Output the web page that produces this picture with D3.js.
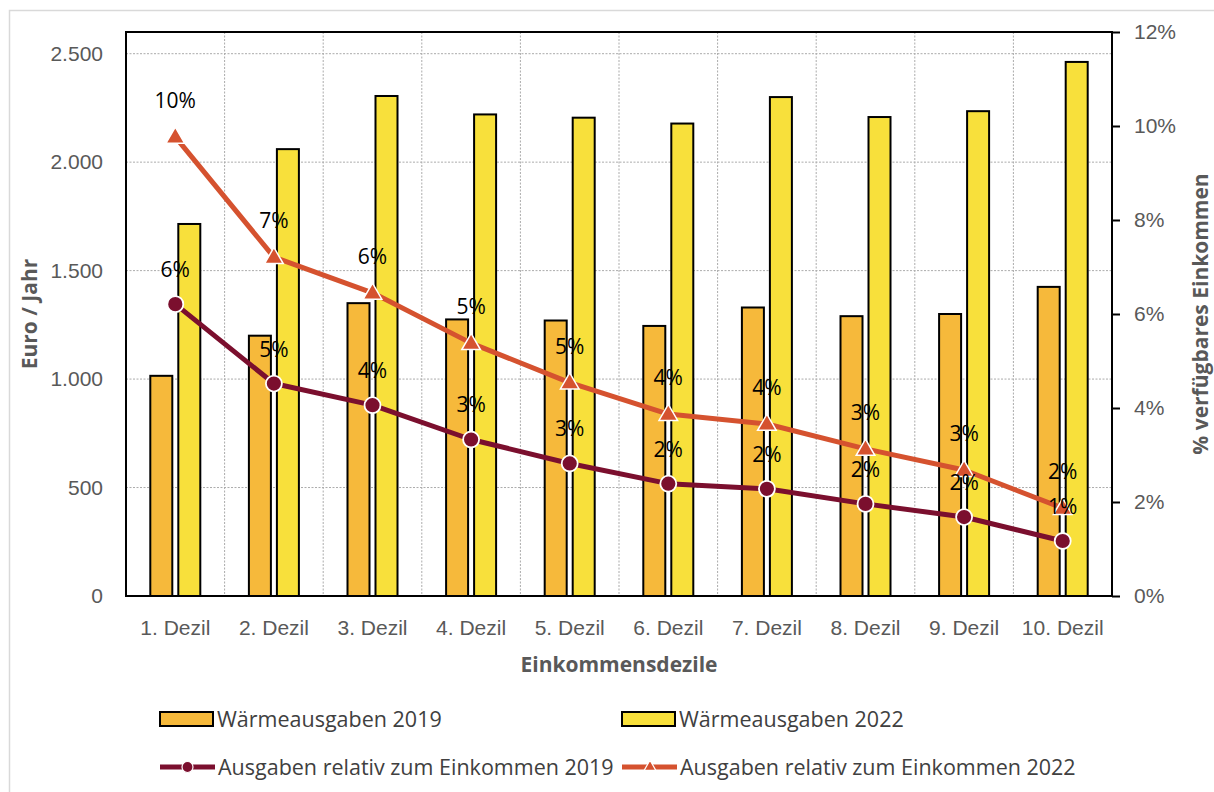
<!DOCTYPE html>
<html lang="de">
<head>
<meta charset="utf-8">
<script src="https://cdn.jsdelivr.net/npm/d3@7"></script>
<style>
  html, body { margin: 0; padding: 0; background: #fff; }
  svg { display: block; font-family: "Open Sans", "Noto Sans", sans-serif; }
</style>
</head>
<body>
<svg id="chart" width="1214" height="792"></svg>
<script>
// Einkommensdezile
const categories = ["1. Dezil", "2. Dezil", "3. Dezil", "4. Dezil", "5. Dezil",
                    "6. Dezil", "7. Dezil", "8. Dezil", "9. Dezil", "10. Dezil"];
// Wärmeausgaben in Euro pro Jahr
const heat2019 = [1015, 1200, 1350, 1275, 1270, 1245, 1330, 1290, 1300, 1425];
const heat2022 = [1715, 2060, 2305, 2220, 2205, 2178, 2300, 2208, 2235, 2462];
// Ausgaben relativ zum verfügbaren Einkommen (Anteil)
const share2019 = [0.0621, 0.0452, 0.0406, 0.0333, 0.0282, 0.0239, 0.0228, 0.0196, 0.0168, 0.0117];
const share2022 = [0.0977, 0.0721, 0.0645, 0.0538, 0.0454, 0.0387, 0.0366, 0.0313, 0.0268, 0.0187];
// Achsenbeschriftungen
const leftTicks = [0, 500, 1000, 1500, 2000, 2500];
const rightTicks = [0, 0.02, 0.04, 0.06, 0.08, 0.10, 0.12];
const seriesNames = ["Wärmeausgaben 2019", "Wärmeausgaben 2022",
                     "Ausgaben relativ zum Einkommen 2019", "Ausgaben relativ zum Einkommen 2022"];

const C = {
  bar19: "#F6B93B", bar22: "#F8E03B",
  line19: "#7B0F2E", line22: "#D5522F",
  tick: "#595959", legend: "#404040", grid: "#ababab"
};

const svg = d3.select("#chart");
const m = { left: 126, top: 32, right: 1112, bottom: 596 };
const W = m.right - m.left, H = m.bottom - m.top;

// outer frame
svg.append("rect").attr("x", 9.5).attr("y", 10.5).attr("width", 1230).attr("height", 800)
  .attr("fill", "none").attr("stroke", "#d9d9d9").attr("stroke-width", 1.5);

const g = svg.append("g").attr("transform", `translate(${m.left},${m.top})`);

const x = d3.scaleBand().domain(categories).range([0, W]).paddingInner(0).paddingOuter(0);
const bw = x.bandwidth();
const xSub = d3.scaleBand().domain(["2019", "2022"])
  .range([bw / 2 - 25, bw / 2 + 25]).paddingInner(6 / 28).paddingOuter(0);
const yL = d3.scaleLinear().domain([0, 2600]).range([H, 0]);
const yR = d3.scaleLinear().domain([0, 0.12]).range([H, 0]);

const deFmt = d3.formatLocale({ decimal: ",", thousands: ".", grouping: [3], currency: ["", " €"] }).format(",");

// gridlines
g.append("g").selectAll("line").data(leftTicks.slice(1)).join("line")
  .attr("x1", 0).attr("x2", W).attr("y1", d => yL(d)).attr("y2", d => yL(d))
  .attr("stroke", C.grid).attr("stroke-width", 1).attr("stroke-dasharray", "2,1.5");
g.append("g").selectAll("line").data(categories.slice(1)).join("line")
  .attr("x1", d => x(d)).attr("x2", d => x(d)).attr("y1", 0).attr("y2", H)
  .attr("stroke", C.grid).attr("stroke-width", 1).attr("stroke-dasharray", "2,1.5");

// bars
const barData = categories.map((c, i) => ({ c, v19: heat2019[i], v22: heat2022[i] }));
const grp = g.append("g").selectAll("g").data(barData).join("g")
  .attr("transform", d => `translate(${x(d.c)},0)`);
grp.append("rect")
  .attr("x", xSub("2019")).attr("width", xSub.bandwidth())
  .attr("y", d => yL(d.v19)).attr("height", d => H - yL(d.v19))
  .attr("fill", C.bar19).attr("stroke", "#000").attr("stroke-width", 2);
grp.append("rect")
  .attr("x", xSub("2022")).attr("width", xSub.bandwidth())
  .attr("y", d => yL(d.v22)).attr("height", d => H - yL(d.v22))
  .attr("fill", C.bar22).attr("stroke", "#000").attr("stroke-width", 2);

// lines
const cx = c => x(c) + bw / 2;
const lineGen = vals => d3.line()
  .x((d, i) => cx(categories[i])).y(d => yR(d))(vals);

g.append("path").attr("d", lineGen(share2019)).attr("fill", "none")
  .attr("stroke", C.line19).attr("stroke-width", 5).attr("stroke-linejoin", "round");
g.append("path").attr("d", lineGen(share2022)).attr("fill", "none")
  .attr("stroke", C.line22).attr("stroke-width", 5).attr("stroke-linejoin", "round");

g.append("g").selectAll("circle").data(share2019).join("circle")
  .attr("cx", (d, i) => cx(categories[i])).attr("cy", d => yR(d)).attr("r", 8)
  .attr("fill", C.line19).attr("stroke", "#fff").attr("stroke-width", 1.8);

const tri = d3.symbol().type(d3.symbolTriangle).size(150);
g.append("g").selectAll("path").data(share2022).join("path")
  .attr("d", tri)
  .attr("transform", (d, i) => `translate(${cx(categories[i])},${yR(d) + 1})`)
  .attr("fill", C.line22).attr("stroke", "#fff").attr("stroke-width", 1.5);

// data labels
const pct = d => Math.round(d * 100) + "%";
const labels = g.append("g").attr("font-size", 21).attr("fill", "#000").attr("text-anchor", "middle");
labels.selectAll("text.l19").data(share2019).join("text").attr("class", "l19")
  .attr("x", (d, i) => cx(categories[i])).attr("y", d => yR(d) - 27).text(pct);
labels.selectAll("text.l22").data(share2022).join("text").attr("class", "l22")
  .attr("x", (d, i) => cx(categories[i])).attr("y", d => yR(d) - 29).text(pct);

// plot frame
g.append("rect").attr("x", 0).attr("y", 0).attr("width", W).attr("height", H)
  .attr("fill", "none").attr("stroke", "#000").attr("stroke-width", 2);

// axes
const axL = g.append("g").call(d3.axisLeft(yL).tickValues(leftTicks).tickSize(0).tickPadding(23).tickFormat(deFmt));
axL.select(".domain").remove();
axL.selectAll("text").attr("font-size", 21).attr("fill", C.tick).attr("font-family", null);

const axR = g.append("g").attr("transform", `translate(${W},0)`)
  .call(d3.axisRight(yR).tickValues(rightTicks).tickSize(8).tickPadding(14).tickFormat(pct));
axR.select(".domain").remove();
axR.selectAll("line").attr("stroke", "#000").attr("stroke-width", 2);
axR.selectAll("text").attr("font-size", 21).attr("fill", C.tick).attr("font-family", null);

const axB = g.append("g").attr("transform", `translate(0,${H})`)
  .call(d3.axisBottom(x).tickSize(0).tickPadding(24));
axB.select(".domain").remove();
axB.selectAll("text").attr("font-size", 21).attr("fill", C.tick).attr("font-family", null);

// axis titles
svg.append("text").attr("transform", `translate(37,${m.top + H / 2}) rotate(-90)`)
  .attr("text-anchor", "middle").attr("font-size", 21).attr("font-weight", "bold")
  .attr("fill", C.tick).text("Euro / Jahr");
svg.append("text").attr("transform", `translate(1208,${m.top + H / 2}) rotate(-90)`)
  .attr("text-anchor", "middle").attr("font-size", 21).attr("font-weight", "bold")
  .attr("fill", C.tick).text("% verfügbares Einkommen");
svg.append("text").attr("x", m.left + W / 2).attr("y", 672)
  .attr("text-anchor", "middle").attr("font-size", 21).attr("font-weight", "bold")
  .attr("fill", C.tick).text("Einkommensdezile");

// legend
const leg = svg.append("g").attr("font-size", 21.5).attr("fill", C.legend);
const legItems = [
  { name: seriesNames[0], x: 160, y: 719, kind: "bar", color: C.bar19 },
  { name: seriesNames[1], x: 622, y: 719, kind: "bar", color: C.bar22 },
  { name: seriesNames[2], x: 160, y: 767, kind: "circle", color: C.line19 },
  { name: seriesNames[3], x: 622, y: 767, kind: "tri", color: C.line22 }
];
legItems.forEach(it => {
  const li = leg.append("g").attr("transform", `translate(${it.x},${it.y})`);
  if (it.kind === "bar") {
    li.append("rect").attr("x", 0).attr("y", -7).attr("width", 53).attr("height", 14)
      .attr("fill", it.color).attr("stroke", "#000").attr("stroke-width", 2);
    li.append("text").attr("x", 57).attr("y", 0).attr("dy", "0.35em").text(it.name);
  } else {
    li.append("line").attr("x1", 0).attr("x2", 55).attr("y1", 0).attr("y2", 0)
      .attr("stroke", it.color).attr("stroke-width", 5);
    if (it.kind === "circle") {
      li.append("circle").attr("cx", 27.5).attr("cy", 0).attr("r", 5.5)
        .attr("fill", it.color).attr("stroke", "#fff").attr("stroke-width", 1.2);
    } else {
      li.append("path").attr("d", d3.symbol().type(d3.symbolTriangle).size(60))
        .attr("transform", "translate(28,0)")
        .attr("fill", it.color).attr("stroke", "#fff").attr("stroke-width", 1.2);
    }
    li.append("text").attr("x", 58).attr("y", 0).attr("dy", "0.35em").text(it.name);
  }
});
</script>
</body>
</html>
